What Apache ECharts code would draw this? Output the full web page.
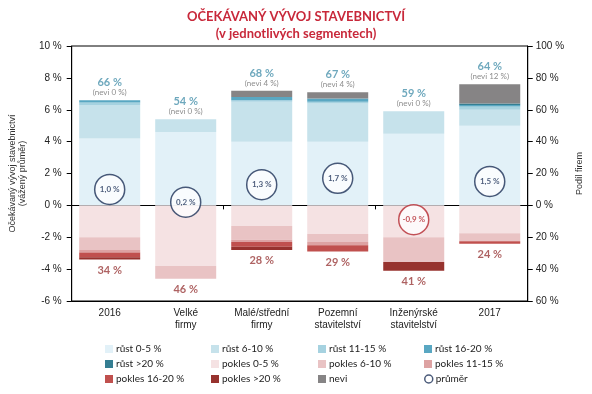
<!DOCTYPE html>
<html><head><meta charset="utf-8">
<script src="https://cdn.jsdelivr.net/npm/echarts@6/dist/echarts.min.js"></script>
<style>html,body{margin:0;padding:0;background:#fff}#c{width:592px;height:394px}</style>
</head><body><div id="c"></div>
<script>
const categories = ['2016', 'Velké\nfirmy', 'Malé/střední\nfirmy', 'Pozemní\nstavitelství', 'Inženýrské\nstavitelství', '2017'];
const rust0_5   = [42, 46, 40, 40, 45, 50];
const rust6_10  = [21, 8, 25, 24, 14, 10];
const rust11_15 = [1.5, 0, 1, 1, 0, 2];
const rust16_20 = [1.5, 0, 2, 2, 0, 1];
const rustGt20  = [0, 0, 0, 0, 0, 1];
const nevi      = [0, 0, 4, 4, 0, 12];
const pokles0_5   = [20, 38, 13, 18, 20, 17.5];
const pokles6_10  = [8, 8, 8.5, 5, 15.5, 5];
const pokles11_15 = [1.5, 0, 1.5, 2, 0, 0];
const pokles16_20 = [3, 0, 3, 4, 0, 1.5];
const poklesGt20  = [1.5, 0, 2, 0, 5.5, 0];
const prumer = [1.0, 0.2, 1.3, 1.7, -0.9, 1.5];
const growthLabels = [66, 54, 68, 67, 59, 64];
const neviLabels = [0, 0, 4, 4, 0, 12];
const declineLabels = [34, 46, 28, 29, 41, 24];
const leftTicks = {min: -6, max: 10, interval: 2};
const rightTicks = {min: -60, max: 100, interval: 20};

const posSeries = [
  ['růst 0-5 %', rust0_5, '#e2f1f8'],
  ['růst 6-10 %', rust6_10, '#c6e2eb'],
  ['růst 11-15 %', rust11_15, '#a6d2e0'],
  ['růst 16-20 %', rust16_20, '#59a7c2'],
  ['růst >20 %', rustGt20, '#357e92'],
  ['nevi', nevi, '#868485']
];
const negSeries = [
  ['pokles 0-5 %', pokles0_5, '#f5e2e3'],
  ['pokles 6-10 %', pokles6_10, '#e9c3c4'],
  ['pokles 11-15 %', pokles11_15, '#dda2a2'],
  ['pokles 16-20 %', pokles16_20, '#c0504e'],
  ['pokles >20 %', poklesGt20, '#97322e']
];
const topTotals = categories.map((c, i) => posSeries.reduce((s, p) => s + p[1][i], 0));
const bottomTotals = categories.map((c, i) => -negSeries.reduce((s, p) => s + p[1][i], 0));

const series = [];
posSeries.forEach(p => series.push({
  name: p[0], type: 'bar', stack: 'all', xAxisIndex: 0, yAxisIndex: 1, barWidth: 61,
  itemStyle: {color: p[2]}, data: p[1], animation: false
}));
negSeries.forEach(p => series.push({
  name: p[0], type: 'bar', stack: 'all', xAxisIndex: 0, yAxisIndex: 1, barWidth: 61,
  itemStyle: {color: p[2]}, data: p[1].map(v => -v), animation: false
}));
series.push({
  name: 'topLabels', type: 'scatter', xAxisIndex: 0, yAxisIndex: 1, symbolSize: 0, silent: true,
  data: topTotals, animation: false,
  label: {show: true, position: 'top', distance: 3,
    formatter: p => '{a|' + growthLabels[p.dataIndex] + ' %}\n{b|(nevi ' + neviLabels[p.dataIndex] + ' %)}',
    rich: {a: {fontSize: 11, fontWeight: 'bold', color: '#4a92ac', lineHeight: 11, align: 'center', fontFamily: 'Lato'},
           b: {fontSize: 8, color: '#6f6f6f', lineHeight: 9, align: 'center', fontFamily: 'Lato'}}}
});
series.push({
  name: 'bottomLabels', type: 'scatter', xAxisIndex: 0, yAxisIndex: 1, symbolSize: 0, silent: true,
  data: bottomTotals, animation: false,
  label: {show: true, position: 'bottom', distance: 5,
    formatter: p => declineLabels[p.dataIndex] + ' %',
    fontSize: 11, fontWeight: 'bold', color: '#9a3b3b', fontFamily: 'Lato'}
});
series.push({
  name: 'průměr', type: 'scatter', xAxisIndex: 0, yAxisIndex: 0, symbol: 'circle', symbolSize: 30,
  animation: false, z: 5,
  itemStyle: {color: '#fff', borderColor: '#1d3158', borderWidth: 1.5},
  data: prumer.map(v => v < 0 ? {value: v, itemStyle: {borderColor: '#b4282f'}, label: {color: '#b4282f'}} : v),
  label: {show: true, position: 'inside', fontSize: 8, fontWeight: 'bold', color: '#1d3158', fontFamily: 'Lato',
    formatter: p => prumer[p.dataIndex].toFixed(1).replace('.', ',') + ' %'}
});

const legendNames = ['růst 0-5 %', 'růst 6-10 %', 'růst 11-15 %', 'růst 16-20 %',
  'růst >20 %', 'pokles 0-5 %', 'pokles 6-10 %', 'pokles 11-15 %',
  'pokles 16-20 %', 'pokles >20 %', 'nevi', 'průměr'];
const colX = [105, 211, 318, 424];
const rowY = [344, 359, 374];
const legends = legendNames.map((n, i) => ({
  data: [n === 'průměr' ? {name: n, icon: 'circle', itemStyle: {color: '#fff', borderColor: '#1d3158', borderWidth: 1.5}} : {name: n, icon: 'rect'}],
  left: colX[i % 4], top: rowY[Math.floor(i / 4)], padding: 0, itemWidth: 8, itemHeight: 8, itemGap: 0,
  selectedMode: false,
  textStyle: {fontSize: 10, color: '#222', fontFamily: 'Lato', padding: [0, 0, 0, -2]}
}));

const chart = echarts.init(document.getElementById('c'), null, {renderer: 'canvas'});
chart.setOption({
  backgroundColor: '#fff',
  animation: false,
  title: {text: 'OČEKÁVANÝ VÝVOJ STAVEBNICTVÍ\n(v jednotlivých segmentech)', left: 'center', top: 3,
    textStyle: {fontSize: 13, fontWeight: 'bold', color: '#c8283a', lineHeight: 17, fontFamily: 'Lato'}},
  grid: {left: 67, right: 52, top: 46, bottom: 93, show: true, borderColor: '#000', borderWidth: 1, backgroundColor: 'transparent'},
  legend: legends,
  xAxis: [
    {type: 'category', data: categories, position: 'bottom',
      axisLine: {onZero: false, lineStyle: {color: '#000'}}, axisTick: {show: false},
      axisLabel: {fontSize: 10, color: '#222', lineHeight: 12, margin: 6, fontFamily: 'Liberation Sans'}},
    {type: 'category', data: categories, position: 'bottom',
      axisLine: {onZero: true, lineStyle: {color: '#000'}}, axisTick: {show: true, length: 4, lineStyle: {color: '#000'}},
      axisLabel: {show: false}}
  ],
  yAxis: [
    {type: 'value', position: 'left', min: leftTicks.min, max: leftTicks.max, interval: leftTicks.interval,
      splitLine: {show: false},
      axisLine: {show: true, lineStyle: {color: '#000'}}, axisTick: {show: true, length: 5, lineStyle: {color: '#000'}},
      axisLabel: {fontSize: 10, color: '#222', margin: 10, fontFamily: 'Liberation Sans', formatter: v => v + ' %'},
      name: 'Očekávaný vývoj stavebnictví\n(vážený průměr)', nameLocation: 'middle', nameGap: 37, nameRotate: 90,
      nameTextStyle: {fontSize: 9, color: '#333', lineHeight: 10, fontFamily: 'Liberation Sans'}},
    {type: 'value', position: 'right', min: rightTicks.min, max: rightTicks.max, interval: rightTicks.interval,
      splitLine: {show: false},
      axisLine: {show: true, lineStyle: {color: '#000'}}, axisTick: {show: true, length: 5, lineStyle: {color: '#000'}},
      axisLabel: {fontSize: 10, color: '#222', margin: 8, fontFamily: 'Liberation Sans', formatter: v => Math.abs(v) + ' %'},
      name: 'Podíl firem', nameLocation: 'middle', nameGap: 38, nameRotate: 90,
      nameTextStyle: {fontSize: 9, color: '#333', fontFamily: 'Liberation Sans'}}
  ],
  series: series
});
</script></body></html>
